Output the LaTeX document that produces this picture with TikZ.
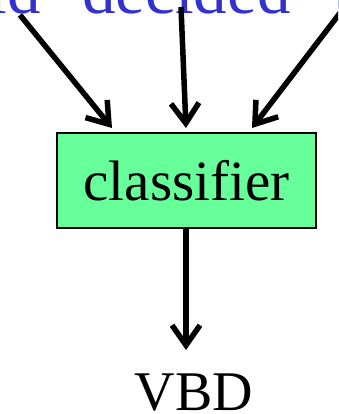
\documentclass[tikz,border=0pt]{standalone}
\usepackage{fontspec}
\setmainfont{Liberation Serif}
\usetikzlibrary{arrows.meta}
\definecolor{boxgreen}{HTML}{66FF99}
\definecolor{topblue}{HTML}{3333CC}
\begin{document}
\begin{tikzpicture}[x=1pt,y=-1pt,
  conn/.style={line width=5.5pt,-{Straight Barb[length=20pt,width=28pt]}},
  clsbox/.style={draw=black,line width=1.5pt,fill=boxgreen,minimum width=259pt,minimum height=95pt,inner sep=0pt,font=\fontsize{57}{60}\selectfont},
  lbl/.style={inner sep=0pt,font=\fontsize{56}{60}\selectfont},
  toptext/.style={inner sep=0pt,text=topblue,font=\fontsize{67}{70}\selectfont}]
\useasboundingbox (0,0) rectangle (338,414);
\clip (0,0) rectangle (338,414);
\node[toptext,anchor=base west] (t2) at (82,14) {decided};
\node[toptext,anchor=base east] (t1) at (41,14) {id};
\node[toptext,anchor=base west] (t3) at (334,14) {t};
\node[clsbox] (cls) at (186.5,180.5) {classifier};
\node[lbl,anchor=base] (vbd) at (194,410) {VBD};
\coordinate (s1) at (20,15);
\coordinate (e1) at (112,128);
\coordinate (s2) at (181,7);
\coordinate (e2) at (186,128);
\coordinate (s3) at (340,13);
\coordinate (e3) at (252,128);
\coordinate (e4) at (186,350);
\draw[conn] (s1) -- (e1);
\draw[conn] (s2) -- (e2);
\draw[conn] (s3) -- (e3);
\draw[conn] (cls.south -| e4) -- (e4);
\end{tikzpicture}
\end{document}
